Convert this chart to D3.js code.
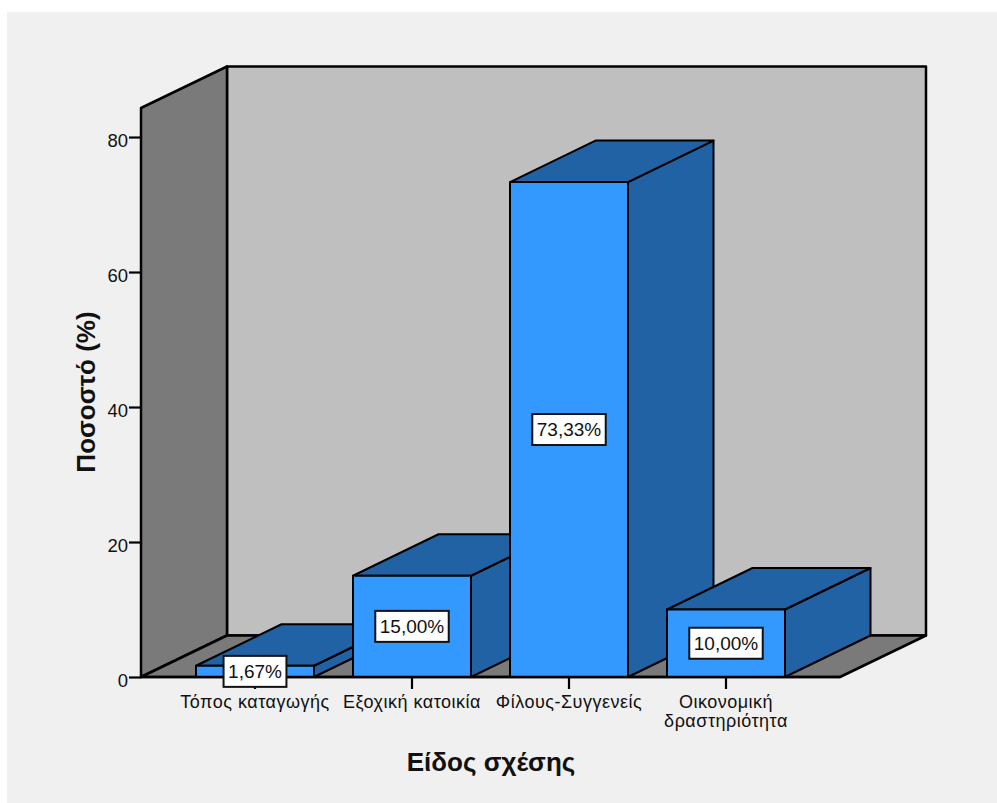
<!DOCTYPE html>
<html>
<head>
<meta charset="utf-8">
<script src="https://cdn.jsdelivr.net/npm/d3@7"></script>
<style>
html,body{margin:0;padding:0;background:#fff}
svg{display:block}
text{font-family:"Liberation Sans",Arial,sans-serif;fill:#111}
</style>
</head>
<body>
<svg id="chart" width="997" height="803"></svg>
<script>
const categories = [["Τόπος καταγωγής"], ["Εξοχική κατοικία"], ["Φίλους-Συγγενείς"], ["Οικονομική", "δραστηριότητα"]];
const values = [1.67, 15.00, 73.33, 10.00];
const valueLabels = ["1,67%", "15,00%", "73,33%", "10,00%"];
const yTicks = [0, 20, 40, 60, 80];
const yTitle = "Ποσοστό (%)";
const xTitle = "Είδος σχέσης";

const svg = d3.select("#chart");
const stroke = "#000";

svg.append("rect").attr("x", 7).attr("y", 12).attr("width", 990).attr("height", 791).attr("fill", "#f0f0f0");

// Scales for the front plane of the 3-D box
const frontL = 141, frontR = 840;
const y = d3.scaleLinear().domain([0, 84.3]).range([677, 108]);
const x = d3.scaleBand().domain(d3.range(categories.length)).range([frontL, frontR])
  .paddingInner(39 / 157).paddingOuter(55 / 157);
const depth = { dx: 86, dy: -41.5 };
const barDepth = { dx: 85.5, dy: -41.5 };

const line = d3.line();
const poly = (pts, fill, width) => svg.append("path")
  .attr("d", line(pts) + "Z")
  .attr("fill", fill).attr("stroke", stroke).attr("stroke-width", width).attr("stroke-linejoin", "round");

const y0 = y(0), yTop = y(y.domain()[1]);

// Back wall, side wall, floor
poly([[frontL + depth.dx, yTop + depth.dy], [frontR + depth.dx, yTop + depth.dy], [frontR + depth.dx, y0 + depth.dy], [frontL + depth.dx, y0 + depth.dy]], "#bfbfbf", 2.5);
poly([[frontL, y0], [frontL, yTop], [frontL + depth.dx, yTop + depth.dy], [frontL + depth.dx, y0 + depth.dy]], "#7a7a7a", 2.5);
poly([[frontL, y0], [frontL + depth.dx, y0 + depth.dy], [frontR + depth.dx, y0 + depth.dy], [frontR, y0]], "#7a7a7a", 2.5);

// Y axis ticks and labels
const yAxis = d3.axisLeft(y).tickValues(yTicks).tickSize(12).tickPadding(1).tickFormat(d3.format("d"));
const gy = svg.append("g").attr("transform", `translate(${frontL},0)`).call(yAxis);
gy.select(".domain").remove();
gy.selectAll("line").attr("stroke", stroke).attr("stroke-width", 2.2);
gy.selectAll("text").attr("font-size", 18.5).attr("dy", "0.5em")
  .style("font-family", '"Liberation Sans",Arial,sans-serif').attr("fill", "#111");

// Category ticks below the floor edge
const gx = svg.append("g").attr("transform", `translate(0,${y0})`)
  .call(d3.axisBottom(x).tickSize(12).tickFormat(""));
gx.select(".domain").remove();
gx.selectAll("line").attr("stroke", stroke).attr("stroke-width", 2.2);

// Bars, drawn left to right so each overlaps the previous one
values.forEach((v, i) => {
  const l = x(i), r = l + x.bandwidth(), t = y(v);
  const d = barDepth;
  poly([[r, y0], [r, t], [r + d.dx, t + d.dy], [r + d.dx, y0 + d.dy]], "#2162a4", 2);
  poly([[l, t], [l + d.dx, t + d.dy], [r + d.dx, t + d.dy], [r, t]], "#2162a4", 2);
  poly([[l, y0], [l, t], [r, t], [r, y0]], "#3399ff", 2);
});

// Front baseline
svg.append("line").attr("x1", frontL).attr("x2", frontR).attr("y1", y0).attr("y2", y0).attr("stroke", stroke).attr("stroke-width", 2.5);

// Value labels in white boxes
values.forEach((v, i) => {
  const cx = x(i) + x.bandwidth() / 2;
  const cy = (y(v) + y0) / 2;
  const g = svg.append("g").attr("transform", `translate(${cx},${cy})`);
  const t = g.append("text").attr("text-anchor", "middle").attr("dy", "0.36em").attr("font-size", 19).text(valueLabels[i]);
  const w = t.node().getComputedTextLength() + 9;
  g.insert("rect", "text").attr("x", -w / 2).attr("y", -15.5).attr("width", w).attr("height", 31)
    .attr("fill", "#fff").attr("stroke", "#111").attr("stroke-width", 2);
});

// Category labels
categories.forEach((lines, i) => {
  const cx = x(i) + x.bandwidth() / 2;
  lines.forEach((s, j) => {
    svg.append("text").attr("x", cx).attr("y", 708 + j * 19).attr("text-anchor", "middle")
      .attr("font-size", 18).attr("letter-spacing", 0.5).text(s);
  });
});

// Axis titles
svg.append("text").attr("x", 491).attr("y", 771).attr("text-anchor", "middle").attr("font-size", 26).attr("font-weight", "bold").text(xTitle);
svg.append("text").attr("transform", "translate(95,392) rotate(-90)").attr("text-anchor", "middle").attr("font-size", 26).attr("font-weight", "bold").text(yTitle);
</script>
</body>
</html>
